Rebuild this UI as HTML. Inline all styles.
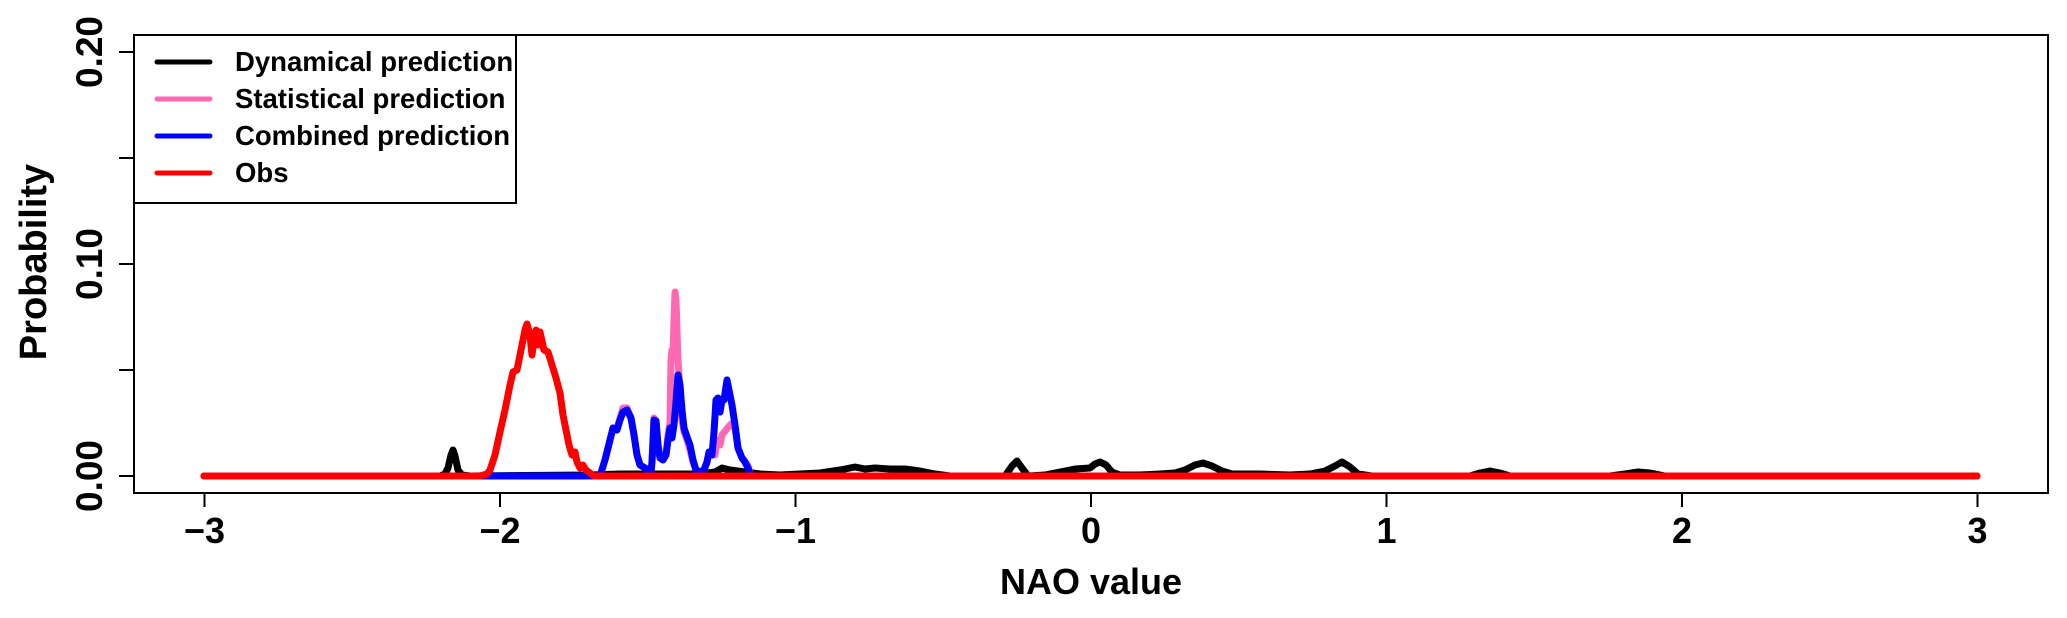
<!DOCTYPE html>
<html><head><meta charset="utf-8"><style>
html,body{margin:0;padding:0;background:#fff;}
svg{display:block;}
text{font-family:"Liberation Sans",Arial,sans-serif;font-weight:bold;fill:#000;}
</style></head><body>
<svg width="2067" height="618" viewBox="0 0 2067 618" xmlns="http://www.w3.org/2000/svg">
<rect x="134" y="35" width="1914" height="458" fill="none" stroke="#000" stroke-width="2"/>
<g stroke="#000" stroke-width="2">
<line x1="119" y1="476" x2="134" y2="476"/><line x1="119" y1="370" x2="134" y2="370"/>
<line x1="119" y1="264" x2="134" y2="264"/><line x1="119" y1="158" x2="134" y2="158"/>
<line x1="119" y1="52" x2="134" y2="52"/>
<line x1="204.5" y1="493" x2="204.5" y2="507"/><line x1="500" y1="493" x2="500" y2="507"/>
<line x1="795.5" y1="493" x2="795.5" y2="507"/><line x1="1091" y1="493" x2="1091" y2="507"/>
<line x1="1386.5" y1="493" x2="1386.5" y2="507"/><line x1="1682" y1="493" x2="1682" y2="507"/>
<line x1="1977.5" y1="493" x2="1977.5" y2="507"/>
</g>
<g font-size="37" text-anchor="middle">
<text transform="translate(102,476) rotate(-90)">0.00</text>
<text transform="translate(102,264) rotate(-90)">0.10</text>
<text transform="translate(102,52) rotate(-90)">0.20</text>
</g>
<g font-size="36" text-anchor="middle">
<text x="204.5" y="543">−3</text><text x="500" y="543">−2</text><text x="795.5" y="543">−1</text>
<text x="1091" y="543">0</text><text x="1386.5" y="543">1</text><text x="1682" y="543">2</text><text x="1977.5" y="543">3</text>
</g>
<text x="1091" y="594" font-size="36" text-anchor="middle">NAO value</text>
<text transform="translate(46,262) rotate(-90)" font-size="38" text-anchor="middle">Probability</text>
<g fill="none" stroke-width="7" stroke-linejoin="round" stroke-linecap="round">
<polyline stroke="#000" points="204,476 440,476 445,474 448,468 451,455 453,450 455,456 458,470 462,475 470,476 590,475 620,474 660,474 700,474 715,472 722,468 730,470 745,472 760,474 780,475 800,474 820,473 840,470 855,467 865,469 875,468 890,469 905,469 920,471 935,474 950,476 1005,476 1012,466 1017,461 1022,468 1028,476 1045,475 1060,472 1075,469 1090,468 1095,464 1100,462 1106,465 1112,472 1120,475 1140,475 1160,474 1175,473 1185,470 1195,465 1203,463 1212,466 1222,471 1232,474 1260,474 1290,475 1310,474 1325,471 1335,466 1342,462 1350,467 1358,474 1372,476 1470,476 1480,473 1490,471 1500,473 1510,476 1610,476 1625,474 1638,472 1650,473 1665,476 1977,476"/>
<polyline stroke="#ff69b4" points="480,476 600,476 605,460 610,440 613,428 617,428 620,418 623,408 627,408 631,418 634,435 637,455 640,465 645,468 648,470 651,472 652,462 654,418 656,421 658,445 660,458 663,460 666,455 668,435 670,422 671,360 672,350 673,355 674,320 675,292 676,300 678,360 680,390 682,420 684,432 687,440 690,450 693,462 696,470 700,472 704,470 707,462 709,452 712,455 715,455 717,440 720,445 722,435 726,430 731,424 735,428 738,448 742,458 745,462 748,466 751,476 1977,476"/>
<polyline stroke="#0000ff" points="480,476 600,476 605,460 610,440 613,428 617,430 620,420 623,412 627,410 631,418 634,435 637,455 640,465 645,468 648,470 651,472 652,462 654,420 656,421 658,445 660,458 663,460 666,455 668,440 670,428 672,438 674,425 676,402 678,375 680,385 682,410 684,428 687,437 690,445 693,460 696,470 700,472 704,470 707,462 709,452 712,455 714,432 716,400 718,398 720,412 722,400 724,400 727,380 729,390 732,405 735,425 738,448 742,458 745,462 748,468 751,476"/>
<polyline stroke="#ff0000" points="204,476 480,476 487,474 490,470 495,455 500,432 505,410 510,385 513,372 517,370 520,355 523,340 525,330 527,324 530,335 532,355 534,340 536,330 538,345 540,332 544,350 548,352 552,365 556,378 560,393 563,415 566,430 569,445 572,455 575,452 577,462 580,468 583,465 586,470 590,473 594,476 1977,476"/>
</g>
<rect x="134" y="35" width="382" height="168" fill="#fff" stroke="#000" stroke-width="2"/>
<g stroke-width="5" stroke-linecap="round">
<line x1="157" y1="62" x2="210" y2="62" stroke="#000"/>
<line x1="157" y1="99" x2="210" y2="99" stroke="#ff69b4"/>
<line x1="157" y1="136" x2="210" y2="136" stroke="#0000ff"/>
<line x1="157" y1="173" x2="210" y2="173" stroke="#ff0000"/>
</g>
<g font-size="27.5">
<text x="235" y="71">Dynamical prediction</text>
<text x="235" y="108">Statistical prediction</text>
<text x="235" y="145">Combined prediction</text>
<text x="235" y="182">Obs</text>
</g>
</svg>
</body></html>
